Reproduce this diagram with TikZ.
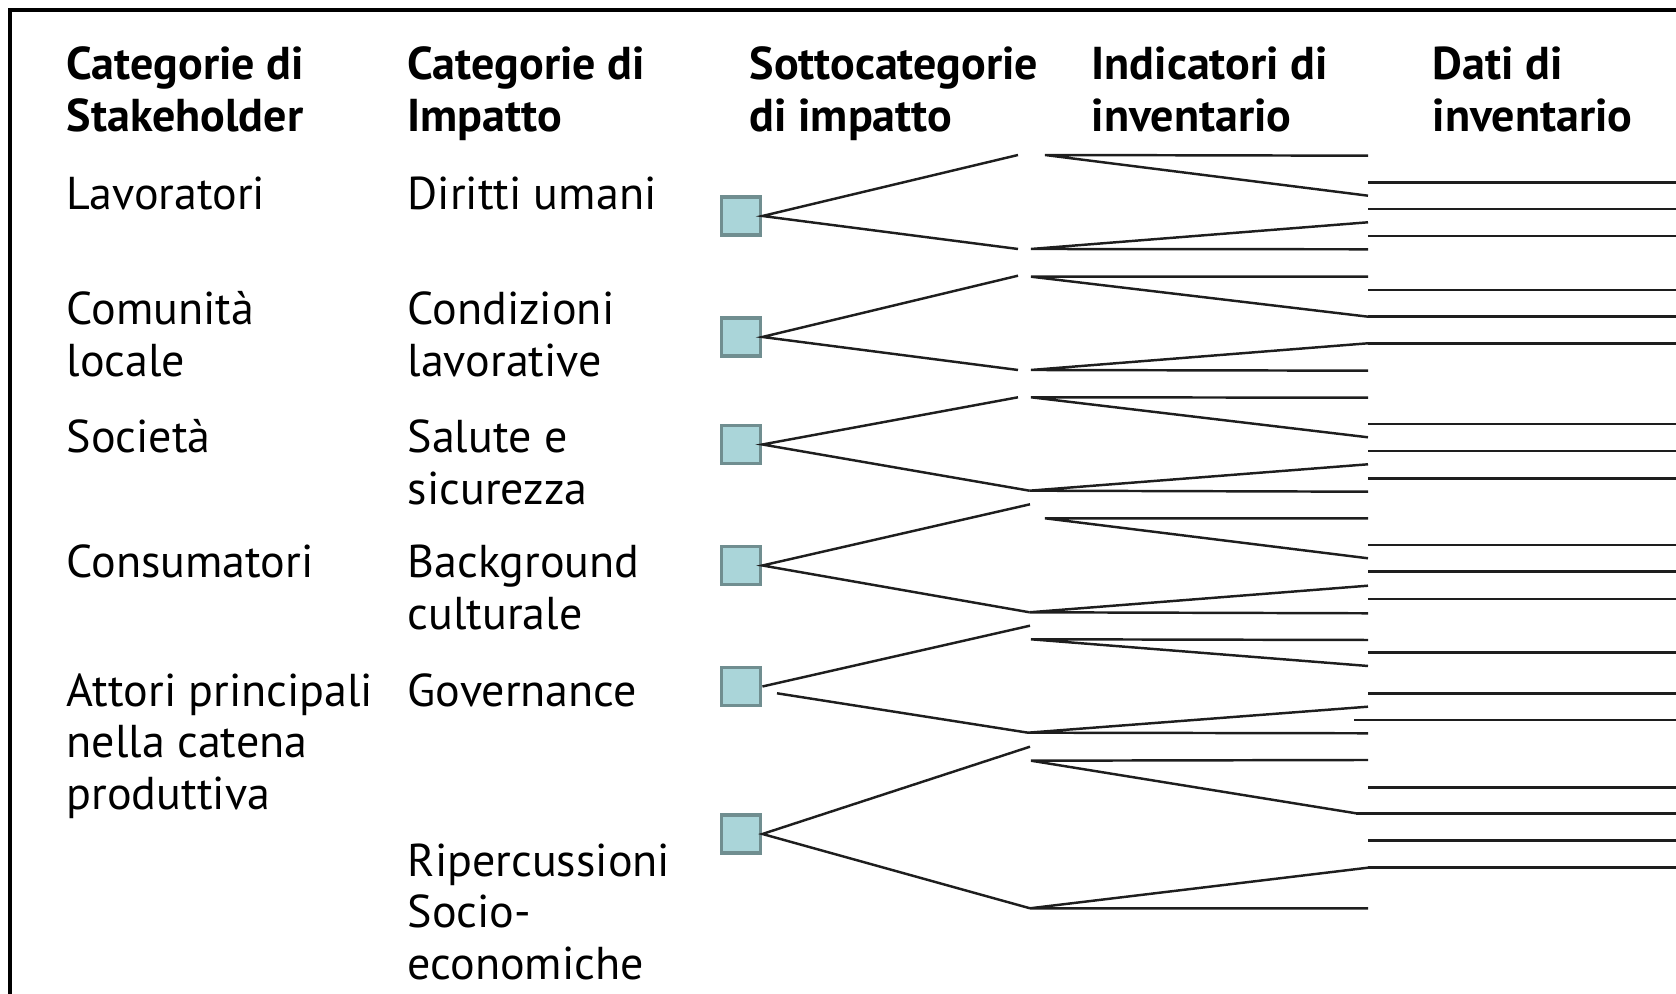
\documentclass[tikz,border=0pt]{standalone}
\usepackage{fontspec}
\setmainfont{PT Sans}
\usepackage{xcolor}
\usepackage{tikz}

\definecolor{boxfill}{RGB}{170,213,217}
\definecolor{boxline}{RGB}{112,142,144}
\definecolor{wire}{RGB}{30,30,30}

\tikzset{
  lbl/.style={anchor=base west, inner sep=0pt, align=left,
    font=\fontsize{13.1}{14.6}\selectfont},
  hdr/.style={lbl, font=\fontsize{13.1}{14.6}\selectfont\bfseries},
  sub/.style={draw=boxline, fill=boxfill, line width=1.1pt,
    minimum width=0.39cm, minimum height=0.38cm, inner sep=0pt},
  wire/.style={draw=wire, line width=0.7pt}
}

\begin{document}
\begin{tikzpicture}
\useasboundingbox (0,0) rectangle (16.76,-9.94);
\draw[line width=1pt] (0.10,-9.94) -- (0.10,-0.10) -- (16.76,-0.10);

% column heads (base = last line)
\node[hdr] (hd1) at (0.66,-1.313) {Categorie di\\Stakeholder};
\node[hdr] (hd2) at (4.07,-1.313) {Categorie di\\Impatto};
\node[hdr] (hd3) at (7.49,-1.313) {Sottocategorie\\di impatto};
\node[hdr] (hd4) at (10.91,-1.313) {Indicatori di\\inventario};
\node[hdr] (hd5) at (14.32,-1.313) {Dati di\\inventario};

% stakeholders
\node[lbl] (st1) at (0.66,-2.095) {Lavoratori};
\node[lbl] (st2) at (0.66,-3.763) {Comunità\\locale};
\node[lbl] (st3) at (0.66,-4.53) {Società};
\node[lbl] (st4) at (0.66,-5.78) {Consumatori};
\node[lbl] (st5) at (0.66,-8.091) {Attori principali\\nella catena\\produttiva};

% impact categories
\node[lbl] (ic1) at (4.07,-2.095) {Diritti umani};
\node[lbl] (ic2) at (4.07,-3.763) {Condizioni\\lavorative};
\node[lbl] (ic3) at (4.07,-5.043) {Salute e\\sicurezza};
\node[lbl] (ic4) at (4.07,-6.293) {Background\\culturale};
\node[lbl] (ic5) at (4.07,-7.065) {Governance};
\node[lbl] (ic6) at (4.07,-9.791) {Ripercussioni\\Socio-\\economiche};

% subcategory boxes
\node[sub] (q1) at (7.41,-2.16) {};
\node[sub] (q2) at (7.41,-3.37) {};
\node[sub] (q3) at (7.41,-4.445) {};
\node[sub] (q4) at (7.41,-5.655) {};
\node[sub] (q5) at (7.41,-6.865) {};
\node[sub] (q6) at (7.41,-8.34) {};

% branch ends
\coordinate (q1u) at (10.18,-1.55);
\coordinate (q1d) at (10.18,-2.49);
\coordinate (q2u) at (10.18,-2.757);
\coordinate (q2d) at (10.18,-3.70);
\coordinate (q3u) at (10.18,-3.973);
\coordinate (q3d) at (10.295,-4.907);
\coordinate (q4u) at (10.30,-5.043);
\coordinate (q4d) at (10.295,-6.123);
\coordinate (q5u) at (10.30,-6.257);
\coordinate (q5s) at (7.77,-6.933);
\coordinate (q5d) at (10.28,-7.327);
\coordinate (q6u) at (10.30,-7.467);
\coordinate (q6d) at (10.30,-9.083);

\draw[wire] (q1u) -- (q1.east) -- (q1d);
\draw[wire] (q2u) -- (q2.east) -- (q2d);
\draw[wire] (q3u) -- (q3.east) -- (q3d);
\draw[wire] (q4u) -- (q4.east) -- (q4d);
\draw[wire] (q5u) -- (q5.east);
\draw[wire] (q5s) -- (q5d);
\draw[wire] (q6u) -- (q6.east) -- (q6d);

% indicators
\coordinate (i1u) at (10.45,-1.55);
\coordinate (h1u) at (13.68,-1.557);
\coordinate (g1u) at (13.68,-1.957);
\coordinate (i1d) at (10.31,-2.49);
\coordinate (h1d) at (13.68,-2.493);
\coordinate (g1d) at (13.68,-2.223);
\coordinate (i2u) at (10.31,-2.767);
\coordinate (h2u) at (13.68,-2.767);
\coordinate (g2u) at (13.68,-3.167);
\coordinate (i2d) at (10.31,-3.70);
\coordinate (h2d) at (13.68,-3.707);
\coordinate (g2d) at (13.68,-3.433);
\coordinate (i3u) at (10.31,-3.973);
\coordinate (h3u) at (13.68,-3.977);
\coordinate (g3u) at (13.68,-4.373);
\coordinate (i3d) at (10.295,-4.907);
\coordinate (h3d) at (13.68,-4.917);
\coordinate (g3d) at (13.68,-4.643);
\coordinate (i4u) at (10.45,-5.183);
\coordinate (h4u) at (13.68,-5.183);
\coordinate (g4u) at (13.68,-5.583);
\coordinate (i4d) at (10.295,-6.123);
\coordinate (h4d) at (13.68,-6.133);
\coordinate (g4d) at (13.68,-5.857);
\coordinate (i5u) at (10.31,-6.393);
\coordinate (h5u) at (13.68,-6.40);
\coordinate (g5u) at (13.68,-6.66);
\coordinate (i5d) at (10.28,-7.327);
\coordinate (h5d) at (13.68,-7.333);
\coordinate (g5d) at (13.68,-7.067);
\coordinate (i6u) at (10.31,-7.607);
\coordinate (h6u) at (13.68,-7.60);
\coordinate (g6u) at (13.56,-8.133);
\coordinate (i6d) at (10.30,-9.083);
\coordinate (h6d) at (13.68,-9.083);
\coordinate (g6d) at (13.68,-8.677);

\draw[wire] (h1u) -- (i1u) -- (g1u);
\draw[wire] (h1d) -- (i1d) -- (g1d);
\draw[wire] (h2u) -- (i2u) -- (g2u);
\draw[wire] (h2d) -- (i2d) -- (g2d);
\draw[wire] (h3u) -- (i3u) -- (g3u);
\draw[wire] (h3d) -- (i3d) -- (g3d);
\draw[wire] (h4u) -- (i4u) -- (g4u);
\draw[wire] (h4d) -- (i4d) -- (g4d);
\draw[wire] (h5u) -- (i5u) -- (g5u);
\draw[wire] (h5d) -- (i5d) -- (g5d);
\draw[wire] (h6u) -- (i6u) -- (g6u);
\draw[wire] (h6d) -- (i6d) -- (g6d);

% inventory data
\coordinate (d1a) at (13.68,-1.823);  \coordinate (d1b) at (16.76,-1.823);
\coordinate (d2a) at (13.68,-2.09);   \coordinate (d2b) at (16.76,-2.09);
\coordinate (d3a) at (13.68,-2.36);   \coordinate (d3b) at (16.76,-2.36);
\coordinate (d4a) at (13.68,-2.90);   \coordinate (d4b) at (16.76,-2.90);
\coordinate (d5b) at (16.76,-3.167);
\coordinate (d6b) at (16.76,-3.433);
\coordinate (d7a) at (13.68,-4.24);   \coordinate (d7b) at (16.76,-4.24);
\coordinate (d8a) at (13.68,-4.51);   \coordinate (d8b) at (16.76,-4.51);
\coordinate (d9a) at (13.68,-4.783);  \coordinate (d9b) at (16.76,-4.783);
\coordinate (d10a) at (13.68,-5.45);  \coordinate (d10b) at (16.76,-5.45);
\coordinate (d11a) at (13.68,-5.717); \coordinate (d11b) at (16.76,-5.717);
\coordinate (d12a) at (13.68,-5.99);  \coordinate (d12b) at (16.76,-5.99);
\coordinate (d13a) at (13.68,-6.527); \coordinate (d13b) at (16.76,-6.527);
\coordinate (d14a) at (13.68,-6.933); \coordinate (d14b) at (16.76,-6.933);
\coordinate (d15a) at (13.54,-7.20);  \coordinate (d15b) at (16.76,-7.20);
\coordinate (d16a) at (13.68,-7.873); \coordinate (d16b) at (16.76,-7.873);
\coordinate (d17b) at (16.76,-8.133);
\coordinate (d18a) at (13.68,-8.407); \coordinate (d18b) at (16.76,-8.407);
\coordinate (d19b) at (16.76,-8.677);

\draw[wire] (d1a) -- (d1b);
\draw[wire] (d2a) -- (d2b);
\draw[wire] (d3a) -- (d3b);
\draw[wire] (d4a) -- (d4b);
\draw[wire] (g2u) -- (d5b);
\draw[wire] (g2d) -- (d6b);
\draw[wire] (d7a) -- (d7b);
\draw[wire] (d8a) -- (d8b);
\draw[wire] (d9a) -- (d9b);
\draw[wire] (d10a) -- (d10b);
\draw[wire] (d11a) -- (d11b);
\draw[wire] (d12a) -- (d12b);
\draw[wire] (d13a) -- (d13b);
\draw[wire] (d14a) -- (d14b);
\draw[wire] (d15a) -- (d15b);
\draw[wire] (d16a) -- (d16b);
\draw[wire] (g6u) -- (d17b);
\draw[wire] (d18a) -- (d18b);
\draw[wire] (g6d) -- (d19b);
\end{tikzpicture}
\end{document}
